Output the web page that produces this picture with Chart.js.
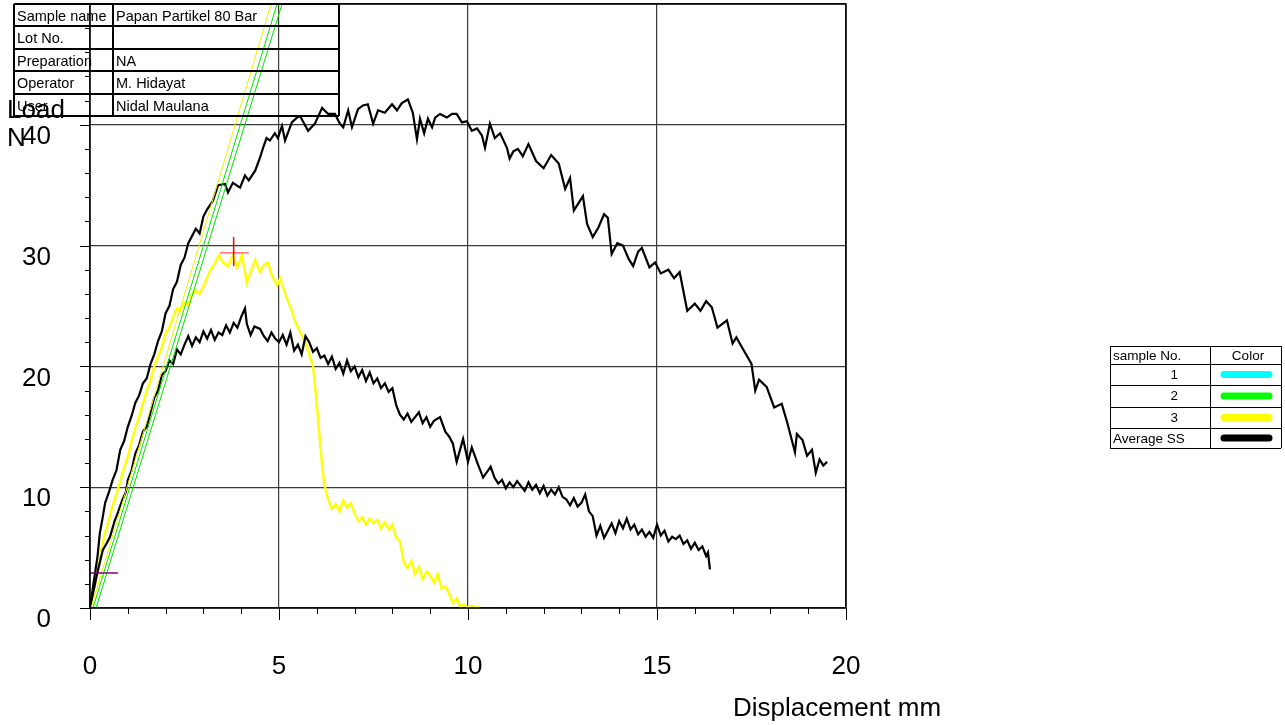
<!DOCTYPE html>
<html>
<head>
<meta charset="utf-8">
<script src="https://cdn.jsdelivr.net/npm/chart.js@4/dist/chart.umd.min.js"></script>
<style>
  html, body { margin: 0; padding: 0; background: #fff; }
</style>
</head>
<body>
<canvas id="loadChart" width="1285" height="725"></canvas>
<script>
// data (Displacement mm, Load N)
const blackUpper = [[0,0],[0.1,2.2],[0.2,4.3],[0.26,6.2],[0.33,7.4],[0.4,8.7],[0.5,9.6],[0.6,10.6],[0.7,11.4],[0.8,13.1],[0.9,13.8],[1.0,15.0],[1.1,15.9],[1.2,17.0],[1.3,17.6],[1.4,18.6],[1.5,19.0],[1.6,20.2],[1.7,21.0],[1.8,22.1],[1.9,22.9],[2.0,24.4],[2.1,25.0],[2.2,26.4],[2.3,27.0],[2.4,28.4],[2.5,29.0],[2.6,30.2],[2.7,30.8],[2.8,31.4],[2.9,31.0],[3.0,32.4],[3.1,33.0],[3.25,33.7],[3.39,35.0],[3.57,35.1],[3.65,34.4],[3.78,35.2],[3.97,34.8],[4.1,35.8],[4.2,35.4],[4.37,36.2],[4.5,37.3],[4.58,38.1],[4.67,38.9],[4.76,38.7],[4.89,39.3],[4.97,38.9],[5.08,39.9],[5.16,38.7],[5.34,40.2],[5.48,40.6],[5.56,40.7],[5.77,39.5],[5.95,40.1],[6.14,41.4],[6.3,40.9],[6.48,40.9],[6.61,40.1],[6.7,39.8],[6.83,41.2],[6.93,39.8],[7.09,41.3],[7.22,41.6],[7.35,41.7],[7.49,40.1],[7.62,41.2],[7.8,41.0],[7.99,41.7],[8.12,41.2],[8.25,41.8],[8.41,42.1],[8.54,41.0],[8.65,38.8],[8.73,40.5],[8.84,39.3],[8.94,40.5],[9.05,39.8],[9.13,40.6],[9.26,40.9],[9.44,40.6],[9.58,40.9],[9.7,40.9],[9.84,40.2],[9.97,40.3],[10.1,39.5],[10.24,39.7],[10.37,39.1],[10.45,38.1],[10.58,40.1],[10.71,38.9],[10.85,39.3],[11.03,38.1],[11.1,37.2],[11.2,37.8],[11.32,38.0],[11.45,37.4],[11.6,38.4],[11.8,37.0],[12.0,36.4],[12.2,37.5],[12.4,36.8],[12.57,34.7],[12.7,35.6],[12.8,32.9],[12.92,33.5],[13.04,34.1],[13.15,31.8],[13.3,30.7],[13.45,31.5],[13.6,32.6],[13.7,32.3],[13.8,29.3],[13.95,30.2],[14.1,30.0],[14.25,28.9],[14.37,28.3],[14.5,29.5],[14.6,29.8],[14.8,28.2],[14.95,28.6],[15.1,27.7],[15.3,28.0],[15.45,27.3],[15.6,27.8],[15.8,24.6],[16.0,25.2],[16.15,24.6],[16.3,25.4],[16.45,24.9],[16.6,23.2],[16.85,23.8],[17.0,21.9],[17.1,22.4],[17.3,21.3],[17.5,20.2],[17.6,18.0],[17.7,18.9],[17.9,18.3],[18.1,16.6],[18.3,16.9],[18.45,15.3],[18.65,12.9],[18.7,14.4],[18.85,13.9],[18.97,12.6],[19.1,13.1],[19.2,11.2],[19.3,12.3],[19.4,11.8],[19.5,12.1]];

const blackLower = [[0,0],[0.1,1.5],[0.2,3.0],[0.34,4.8],[0.45,5.4],[0.53,5.9],[0.65,7.2],[0.75,8.0],[0.85,8.9],[0.95,9.6],[1.0,10.6],[1.1,11.4],[1.2,12.8],[1.3,13.5],[1.4,14.6],[1.5,15.0],[1.6,16.2],[1.7,17.4],[1.8,18.0],[1.9,19.3],[2.0,19.6],[2.1,20.5],[2.2,20.2],[2.3,21.4],[2.4,21.0],[2.5,21.8],[2.6,22.5],[2.7,21.7],[2.8,22.4],[2.9,22.0],[3.0,22.9],[3.1,22.3],[3.2,23.0],[3.3,22.2],[3.4,22.8],[3.5,22.6],[3.6,23.4],[3.7,22.8],[3.8,23.6],[3.9,23.2],[4.0,24.1],[4.1,24.8],[4.15,23.5],[4.25,22.6],[4.35,23.3],[4.5,23.1],[4.6,22.5],[4.7,22.1],[4.8,22.8],[4.9,22.3],[5.0,22.0],[5.1,22.6],[5.2,21.8],[5.3,22.8],[5.4,21.3],[5.5,21.8],[5.6,21.0],[5.7,22.5],[5.8,22.0],[5.9,21.2],[6.0,21.5],[6.1,20.7],[6.2,20.9],[6.3,20.2],[6.4,20.8],[6.5,19.8],[6.6,20.3],[6.7,19.4],[6.8,20.5],[6.9,19.6],[7.0,20.0],[7.1,19.1],[7.2,19.7],[7.3,18.8],[7.4,19.5],[7.5,18.6],[7.6,19.0],[7.7,18.2],[7.8,18.6],[7.9,17.9],[8.0,18.2],[8.1,16.8],[8.2,16.0],[8.3,15.6],[8.4,16.1],[8.5,15.4],[8.6,15.8],[8.7,16.2],[8.8,15.3],[8.9,15.8],[9.0,15.0],[9.1,15.5],[9.26,15.8],[9.4,14.6],[9.5,14.2],[9.6,13.6],[9.7,12.1],[9.87,14.0],[10.0,12.1],[10.1,13.3],[10.25,12.0],[10.4,10.8],[10.6,11.7],[10.7,10.8],[10.8,10.3],[10.9,10.6],[11.0,9.9],[11.1,10.4],[11.2,10.0],[11.3,10.5],[11.5,9.7],[11.6,10.4],[11.7,9.8],[11.8,10.2],[11.9,9.5],[12.0,10.1],[12.1,9.3],[12.2,9.8],[12.3,9.4],[12.4,10.0],[12.5,9.2],[12.6,9.0],[12.7,8.5],[12.8,9.1],[12.9,8.4],[13.0,8.7],[13.1,9.4],[13.2,8.0],[13.3,7.6],[13.4,6.0],[13.5,6.8],[13.6,5.8],[13.7,6.4],[13.8,7.0],[13.9,6.2],[14.0,7.2],[14.1,6.6],[14.2,7.4],[14.3,6.5],[14.4,6.9],[14.5,6.1],[14.6,6.5],[14.7,5.9],[14.8,6.3],[14.9,5.8],[15.0,6.9],[15.1,6.0],[15.2,6.4],[15.3,5.5],[15.4,5.9],[15.5,5.7],[15.6,6.0],[15.7,5.3],[15.8,5.6],[15.9,4.9],[16.0,5.4],[16.1,4.8],[16.2,5.1],[16.3,4.3],[16.35,4.6],[16.4,3.2]];

const yellowCurve = [[0,0],[0.1,1.5],[0.2,3.0],[0.3,4.8],[0.4,6.2],[0.5,7.3],[0.6,8.5],[0.7,9.4],[0.8,10.5],[0.9,11.6],[1.0,12.5],[1.1,13.8],[1.2,14.9],[1.3,15.8],[1.4,16.9],[1.5,18.0],[1.6,18.8],[1.7,20.0],[1.8,20.8],[1.9,21.6],[2.0,22.7],[2.1,23.2],[2.2,24.1],[2.3,24.8],[2.38,24.6],[2.5,25.3],[2.6,25.0],[2.7,26.0],[2.78,26.3],[2.9,26.0],[3.04,26.9],[3.17,27.9],[3.3,28.5],[3.41,29.2],[3.52,28.6],[3.65,28.3],[3.78,29.2],[3.89,28.2],[4.02,29.2],[4.15,26.9],[4.25,27.8],[4.37,28.8],[4.5,27.8],[4.6,28.4],[4.71,28.6],[4.8,27.6],[4.95,26.7],[5.03,27.3],[5.1,26.6],[5.2,25.7],[5.34,24.6],[5.42,23.8],[5.55,22.9],[5.7,22.0],[5.8,21.0],[5.9,20.0],[5.95,18.5],[6.0,16.8],[6.05,15.0],[6.1,13.2],[6.15,11.5],[6.2,10.2],[6.3,9.0],[6.4,8.2],[6.5,8.6],[6.6,8.0],[6.7,8.9],[6.8,8.3],[6.9,8.7],[7.0,7.8],[7.1,7.2],[7.2,7.5],[7.3,6.9],[7.4,7.4],[7.5,7.0],[7.6,7.3],[7.7,6.6],[7.8,7.1],[7.9,6.5],[8.0,6.9],[8.1,5.8],[8.2,5.5],[8.3,3.8],[8.4,3.3],[8.5,3.9],[8.6,2.8],[8.7,3.4],[8.8,2.4],[8.9,3.0],[9.0,2.7],[9.1,2.1],[9.2,2.8],[9.3,1.6],[9.4,1.8],[9.5,1.2],[9.6,0.4],[9.7,0.8],[9.8,0.1],[9.9,0.3],[10.0,0.0],[10.1,0.2],[10.2,0.0],[10.3,0.1]];

// modulus lines (start / end points)
const modYellow = [[0.03,0],[4.79,50]];
const modGreenA = [[0.08,0],[4.95,50]];
const modGreenB = [[0.16,0],[5.08,50]];

// max-load cross and first marker
const maxCrossH = [[3.44,29.4],[4.2,29.4]];
const maxCrossV = [[3.8,28.3],[3.8,30.7]];
const startMark = [[0,2.9],[0.74,2.9]];

const infoLabels = ['Sample name', 'Lot No.', 'Preparation', 'Operator', 'User'];
const infoValues = ['Papan Partikel 80 Bar', '', 'NA', 'M. Hidayat', 'Nidal Maulana'];

const sampleNames = ['1', '2', '3', 'Average SS'];
const sampleColors = ['#00ffff', '#00ff00', '#ffff00', '#000000'];

const fontFamily = '"Liberation Sans", Arial, sans-serif';

function series(points, color, width) {
    return {
        data: points.map(p => ({ x: p[0], y: p[1] })),
        showLine: true,
        borderColor: color,
        borderWidth: width,
        pointRadius: 0,
        fill: false,
        tension: 0
    };
}

const decor = {
    id: 'decor',
    afterDraw(chart) {
        const ctx = chart.ctx;
        const xs = chart.scales.x, ys = chart.scales.y;
        const a = chart.chartArea;
        ctx.save();

        // tick marks
        ctx.strokeStyle = '#000';
        ctx.lineWidth = 1;
        for (let v = 0; v <= 20; v++) {
            const px = Math.round(xs.getPixelForValue(v)) + 0.5;
            ctx.beginPath();
            ctx.moveTo(px, a.bottom);
            ctx.lineTo(px, a.bottom + (v % 5 === 0 ? 12 : 6));
            ctx.stroke();
        }
        for (let v = 0; v <= 50; v += 2) {
            const py = Math.round(ys.getPixelForValue(v)) + 0.5;
            ctx.beginPath();
            ctx.moveTo(a.left, py);
            ctx.lineTo(a.left - (v % 10 === 0 ? 10 : 5), py);
            ctx.stroke();
        }

        // plot frame
        ctx.lineWidth = 1.5;
        ctx.strokeRect(a.left, a.top, a.right - a.left, a.bottom - a.top);

        // axis titles
        ctx.fillStyle = '#000';
        ctx.font = '26px ' + fontFamily;
        ctx.textAlign = 'left';
        ctx.textBaseline = 'alphabetic';
        ctx.fillText('Load', 7, 118);
        ctx.fillText('N', 7, 146);
        ctx.fillText('Displacement mm', 733, 716);

        // info table
        const rowsY = [4, 26, 49, 71, 94, 116];
        ctx.lineWidth = 2;
        ctx.strokeStyle = '#000';
        ctx.beginPath();
        rowsY.forEach(y => { ctx.moveTo(14, y); ctx.lineTo(339, y); });
        [14, 113, 339].forEach(x => { ctx.moveTo(x, 4); ctx.lineTo(x, 116); });
        ctx.stroke();
        ctx.font = '14.5px ' + fontFamily;
        infoLabels.forEach((t, i) => {
            ctx.fillText(t, 17, rowsY[i] + 17);
            ctx.fillText(infoValues[i], 116, rowsY[i] + 17);
        });

        // sample colour table
        const lRows = [346, 364, 385, 407, 428, 448];
        ctx.lineWidth = 1;
        ctx.beginPath();
        lRows.forEach(y => { ctx.moveTo(1110, y + 0.5); ctx.lineTo(1281, y + 0.5); });
        [1110, 1210, 1281].forEach(x => { ctx.moveTo(x + 0.5, 346); ctx.lineTo(x + 0.5, 448); });
        ctx.stroke();
        ctx.font = '13.5px ' + fontFamily;
        ctx.fillText('sample No.', 1113, 360);
        ctx.textAlign = 'center';
        ctx.fillText('Color', 1248, 360);
        sampleNames.forEach((name, i) => {
            const base = lRows[i + 1] + 15;
            if (i === sampleNames.length - 1) {
                ctx.textAlign = 'left';
                ctx.fillText(name, 1113, base);
            } else {
                ctx.textAlign = 'right';
                ctx.fillText(name, 1178, base);
            }
            const cy = (lRows[i + 1] + lRows[i + 2]) / 2;
            ctx.strokeStyle = sampleColors[i];
            ctx.lineWidth = 7;
            ctx.lineCap = 'round';
            ctx.beginPath();
            ctx.moveTo(1224, cy);
            ctx.lineTo(1269, cy);
            ctx.stroke();
            ctx.strokeStyle = '#000';
            ctx.lineWidth = 1;
            ctx.lineCap = 'butt';
        });
        ctx.restore();
    }
};

new Chart(document.getElementById('loadChart'), {
    type: 'scatter',
    data: {
        datasets: [
            series(maxCrossV, '#ff0000', 1.5),
            series(maxCrossH, '#ff7070', 1.5),
            series(startMark, '#800080', 1.5),
            series(modYellow, '#f0f000', 1),
            series(modGreenA, '#00e000', 1),
            series(modGreenB, '#00e000', 1),
            series(blackUpper, '#000000', 2.2),
            series(blackLower, '#000000', 2.2),
            series(yellowCurve, '#ffff00', 2.4)
        ]
    },
    options: {
        responsive: false,
        animation: false,
        events: [],
        layout: { padding: { left: 0, right: 439, top: 4, bottom: 0 } },
        plugins: {
            legend: { display: false },
            tooltip: { enabled: false }
        },
        scales: {
            x: {
                type: 'linear',
                min: 0,
                max: 20,
                afterFit(scale) {
                    scale.height = 117;
                    scale.paddingLeft = 0;
                    scale.paddingRight = 0;
                },
                border: { display: false },
                grid: {
                    drawTicks: false,
                    lineWidth: 1.2,
                    color: c => (c.tick && c.tick.value % 5 === 0) ? '#3a3a3a' : 'rgba(0,0,0,0)'
                },
                ticks: {
                    stepSize: 1,
                    autoSkip: false,
                    maxRotation: 0,
                    padding: 43,
                    color: '#000',
                    font: { family: fontFamily, size: 26 },
                    callback: v => (v % 5 === 0 ? String(v) : '')
                }
            },
            y: {
                min: 0,
                max: 50,
                afterFit(scale) {
                    scale.width = 90;
                    scale.paddingTop = 0;
                    scale.paddingBottom = 0;
                },
                border: { display: false },
                grid: {
                    drawTicks: false,
                    lineWidth: 1.2,
                    color: c => (c.tick && c.tick.value % 10 === 0) ? '#3a3a3a' : 'rgba(0,0,0,0)'
                },
                ticks: {
                    stepSize: 2,
                    autoSkip: false,
                    padding: 39,
                    labelOffset: 12,
                    color: '#000',
                    font: { family: fontFamily, size: 26 },
                    callback: v => ((v % 10 === 0 && v !== 50) ? String(v) : '')
                }
            }
        }
    },
    plugins: [decor]
});
</script>
</body>
</html>
